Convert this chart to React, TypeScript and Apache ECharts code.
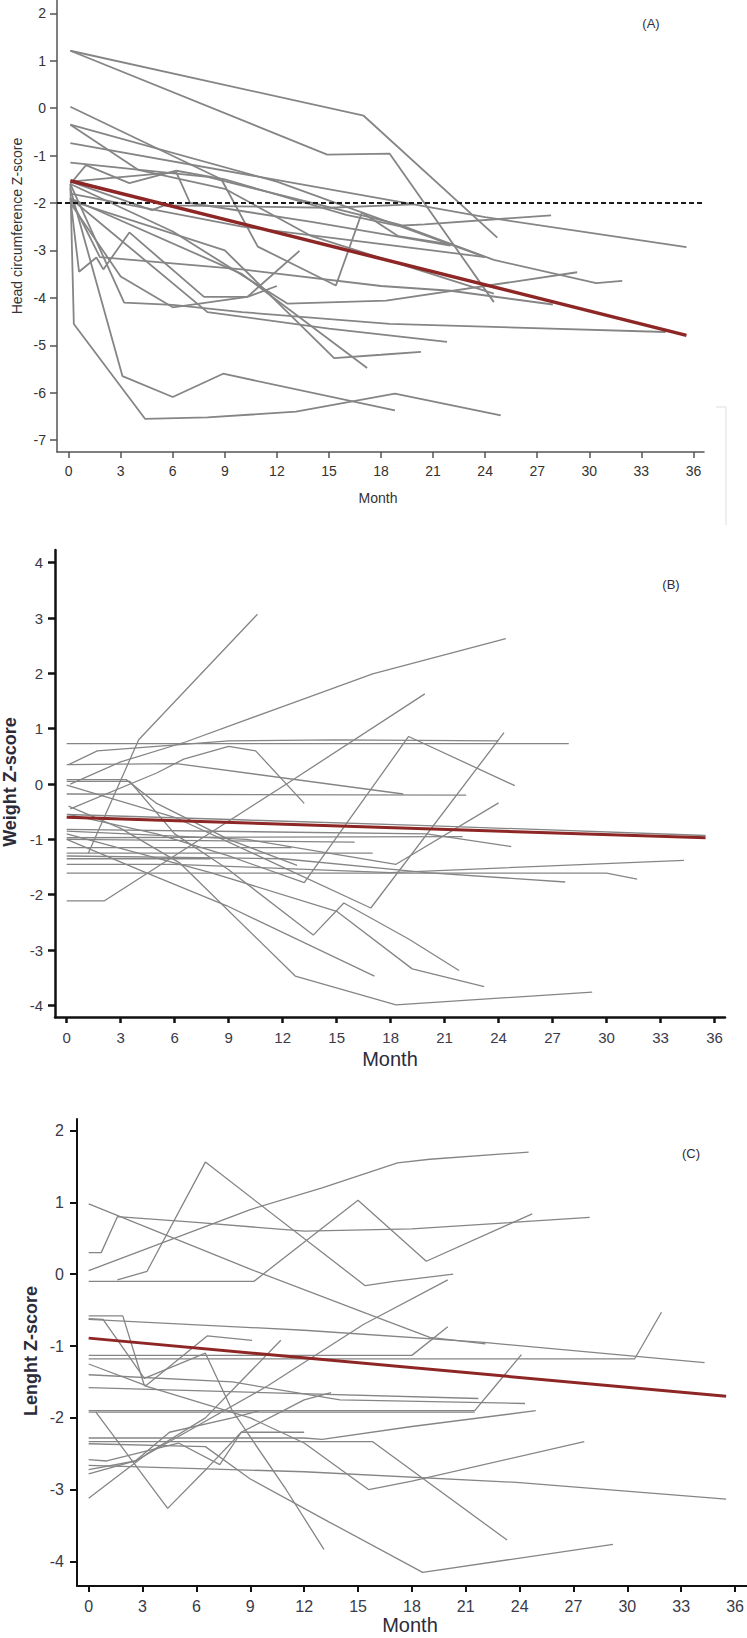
import React, { useEffect, useRef } from "react";
import * as echarts from "echarts";

const monthTicks = [0, 3, 6, 9, 12, 15, 18, 21, 24, 27, 30, 33, 36];
const headTicks = [-7, -6, -5, -4, -3, -2, -1, 0, 1, 2];
const weightTicks = [-4, -3, -2, -1, 0, 1, 2, 3, 4];
const lengthTicks = [-4, -3, -2, -1, 0, 1, 2];

const headCutoff = -2;
const headMean = [[0.1, -1.53], [35.6, -4.79]];
const headLines = [
  [[0.1, 1.21], [17.0, -0.16], [24.7, -2.73]],
  [[0.1, 1.21], [14.9, -0.98], [18.5, -0.96], [24.5, -4.09]],
  [[0.1, 0.03], [8.8, -1.5], [10.9, -2.92], [15.4, -3.74], [16.9, -2.2], [19.0, -2.7], [22.1, -2.88]],
  [[0.1, -0.35], [12, -1.55], [24.0, -3.14]],
  [[0.1, -0.35], [4, -1.3], [9, -1.7], [14, -2.7], [24.5, -3.91]],
  [[0.1, -0.74], [11, -1.45], [24, -2.3], [35.6, -2.93]],
  [[0.1, -1.15], [8, -1.45], [19, -2.45], [24.5, -3.2], [30.4, -3.69], [31.9, -3.64]],
  [[0.1, -1.6], [1.0, -1.2], [3.5, -1.58], [6.2, -1.32], [9.0, -1.5], [16.0, -2.25], [19.0, -2.48], [20.5, -2.45], [27.8, -2.26]],
  [[0.1, -1.55], [4.8, -2.15], [5.5, -2.05], [15, -2.1], [19.9, -2.03]],
  [[0.1, -1.9], [0.6, -3.45], [1.6, -3.15], [2.0, -3.4], [3.5, -2.62], [7.8, -3.98], [10.3, -3.98], [13.3, -3.01]],
  [[0.1, -1.9], [1.8, -3.14], [10, -3.4], [18, -3.75], [22, -3.85], [27.9, -4.14]],
  [[0.1, -1.6], [3.2, -4.1], [6.0, -4.15], [10, -4.3], [18.5, -4.55], [34.4, -4.72]],
  [[0.1, -1.6], [6, -2.6], [12.6, -4.12], [18.3, -4.06], [29.3, -3.46]],
  [[0.1, -2.0], [3.0, -3.55], [6.0, -4.2], [10.3, -3.98], [12.0, -3.75]],
  [[0.1, -1.9], [8, -4.3], [15, -4.65], [21.8, -4.93]],
  [[0.1, -1.95], [9, -3.0], [15.3, -5.27], [18, -5.2], [20.3, -5.14]],
  [[0.1, -1.9], [10, -3.5], [17.2, -5.48]],
  [[0.1, -1.6], [0.3, -4.55], [4.4, -6.55], [8.0, -6.52], [13.1, -6.4], [18.8, -6.02], [24.9, -6.48]],
  [[0.1, -1.7], [3.1, -5.65], [6.0, -6.09], [8.9, -5.6], [18.8, -6.37]],
  [[0.1, -1.55], [6.2, -1.35], [7.0, -2.0], [14, -2.4], [22.0, -2.9]],
  [[0.1, -1.8], [10, -2.5], [24, -3.14]],
];

const weightMean = [[0, -0.6], [35.5, -0.97]];
const weightLines = [
  [[0, -2.11], [2.1, -2.11], [12.3, 0.02], [19.9, 1.63]],
  [[1.2, -1.25], [4.0, 0.8], [10.6, 3.07]],
  [[0.2, 0.0], [3, 0.4], [6.6, 0.76], [12, 1.4], [17, 1.99], [24.4, 2.63]],
  [[0, 0.73], [27.9, 0.73]],
  [[0.1, 0.35], [1.7, 0.6], [9, 0.78], [15, 0.8], [24, 0.78]],
  [[0, 0.35], [6.1, 0.37], [18.7, -0.18]],
  [[0.2, -0.45], [5, 0.2], [6.5, 0.45], [9.0, 0.68], [10.5, 0.6], [13.2, -0.35]],
  [[0.1, -0.55], [5, -0.9], [9, -1.3], [13.2, -1.78], [19.0, 0.86], [24.9, -0.03]],
  [[0, -0.02], [6, -0.6], [12, -1.5], [16.9, -2.24], [24.3, 0.93]],
  [[0, 0.05], [3.5, 0.05], [6, -0.9], [9, -1.55], [13.7, -2.73], [15.4, -2.15], [19, -2.8], [21.8, -3.37]],
  [[0, -0.9], [8, -1.6], [15, -2.3], [19.2, -3.34], [23.2, -3.66]],
  [[0, -1.0], [4.4, -1.6], [8.9, -2.2], [17.1, -3.47]],
  [[0.1, -0.4], [3, -0.8], [6.3, -1.43], [12.7, -3.47], [18.3, -3.99], [29.2, -3.76]],
  [[0, 0.08], [3.3, 0.08], [5, -0.35], [9, -1.0], [12.8, -1.47]],
  [[0, -0.18], [22.2, -0.2]],
  [[0, -0.55], [10, -0.65], [20, -0.75], [35.5, -0.93]],
  [[0, -0.82], [20, -0.9], [24.7, -1.13]],
  [[0, -0.97], [22, -0.95]],
  [[0, -1.0], [16, -1.05]],
  [[0, -1.15], [12.5, -1.15]],
  [[0, -1.25], [17, -1.25]],
  [[0, -1.35], [8, -1.35]],
  [[0, -1.45], [6, -1.45], [18, -1.6], [34.3, -1.38]],
  [[0, -1.61], [30, -1.61], [31.7, -1.72]],
  [[0, -0.85], [10, -1.0], [18.3, -1.45], [24, -0.34]],
  [[0, -1.3], [12, -1.35], [20, -1.6], [27.7, -1.77]],
];

const lengthMean = [[0, -0.89], [35.5, -1.7]];
const lengthLines = [
  [[0, 0.3], [0.7, 0.3], [1.6, 0.8], [6, 0.72], [12, 0.6], [18, 0.63], [27.9, 0.79]],
  [[0, 0.98], [9, 0.07], [15.5, -0.55], [19, -0.88], [22.1, -0.97]],
  [[0, 0.05], [9, 0.9], [13, 1.2], [17.2, 1.55], [19, 1.6], [24.5, 1.7]],
  [[0, -0.1], [9.2, -0.1], [15, 1.03], [18.8, 0.18], [24.7, 0.84]],
  [[1.6, -0.08], [3.25, 0.04], [6.5, 1.56], [15.4, -0.16], [17, -0.1], [20.3, 0.0]],
  [[0, -0.58], [1.9, -0.58], [3.1, -1.55], [9, -2.0], [12, -2.35], [15.6, -3.0], [18, -2.88], [27.6, -2.33]],
  [[0, -2.33], [15.8, -2.33], [23.3, -3.7]],
  [[0, -0.63], [12, -0.78], [22, -0.95], [34.3, -1.23]],
  [[0, -1.18], [30.4, -1.18], [31.9, -0.53]],
  [[0, -1.13], [18, -1.13], [20, -0.73]],
  [[0, -1.4], [8, -1.5], [14, -1.75], [24.3, -1.8]],
  [[0, -1.58], [21.7, -1.73]],
  [[0, -1.9], [21.5, -1.9], [24.1, -1.12]],
  [[0, -2.28], [12, -2.28], [13, -2.3], [18, -2.12], [24.9, -1.9]],
  [[0, -2.66], [12, -2.75], [24, -2.9], [35.5, -3.13]],
  [[0, -3.12], [3.25, -2.5], [6.5, -2.0], [10.7, -0.92]],
  [[0.4, -1.92], [4.4, -3.26], [6.6, -2.7], [8.5, -2.2], [12, -1.75], [13.5, -1.65]],
  [[0, -0.62], [0.8, -0.63], [3.1, -1.45], [6.5, -1.1], [8, -1.9], [11, -3.0], [13.1, -3.83]],
  [[0, -2.36], [6.5, -2.4], [9, -2.85], [13.4, -3.45], [18.6, -4.15], [29.2, -3.76]],
  [[0, -2.78], [2.6, -2.6], [4.5, -2.2], [8, -2.0], [9.5, -1.9]],
  [[0, -2.58], [1, -2.6], [5, -2.35], [7.3, -2.65], [8.5, -2.2], [12, -2.2]],
  [[0, -1.25], [3.2, -1.55], [6.6, -0.86], [9.1, -0.92]],
  [[0, -2.72], [2.6, -2.6], [10, -1.55], [15.3, -0.7], [20, -0.08]],
  [[0, -1.92], [21.5, -1.92]],
];

const GRAY = "#858585";
const RED = "#8e2626";
const FONT = "Liberation Sans, Arial, sans-serif";

function lineSeries(data: number[][], idx: number, color: string, width: number, z = 2, type: any = "solid") {
  return {
    type: "line",
    xAxisIndex: idx,
    yAxisIndex: idx,
    data,
    symbol: "none",
    silent: true,
    z,
    lineStyle: { color, width, type },
  };
}

function xAxisCfg(idx: number, min: number, max: number, lineColor: string, lineWidth: number, fontSize: number, labelColor: string, margin: number) {
  return {
    type: "value",
    gridIndex: idx,
    min,
    max,
    splitLine: { show: false },
    axisLine: { show: true, onZero: false, lineStyle: { color: lineColor, width: lineWidth } },
    axisTick: { show: true, length: 6, customValues: monthTicks, lineStyle: { color: lineColor, width: lineWidth } },
    axisLabel: { customValues: monthTicks, fontSize, color: labelColor, fontFamily: FONT, margin },
  };
}

function yAxisCfg(idx: number, min: number, max: number, ticks: number[], lineColor: string, lineWidth: number, fontSize: number, labelColor: string, margin: number) {
  return {
    type: "value",
    gridIndex: idx,
    min,
    max,
    splitLine: { show: false },
    axisLine: { show: true, onZero: false, lineStyle: { color: lineColor, width: lineWidth } },
    axisTick: { show: true, length: 7, customValues: ticks, lineStyle: { color: lineColor, width: lineWidth } },
    axisLabel: { customValues: ticks, fontSize, color: labelColor, fontFamily: FONT, margin },
  };
}

export default function App() {
  const ref = useRef<HTMLDivElement>(null);
  useEffect(() => {
    if (!ref.current) return;
    const chart = echarts.init(ref.current, undefined, { renderer: "svg" });
    const series: any[] = [];
    headLines.forEach((l) => series.push(lineSeries(l, 0, GRAY, 1.8)));
    series.push(lineSeries([[-0.67, headCutoff], [36.61, headCutoff]], 0, "#1a1a1a", 2, 3, [5, 3]));
    series.push(lineSeries(headMean, 0, RED, 3.5, 4));
    weightLines.forEach((l) => series.push(lineSeries(l, 1, GRAY, 1.3)));
    series.push(lineSeries(weightMean, 1, RED, 3, 4));
    lengthLines.forEach((l) => series.push(lineSeries(l, 2, GRAY, 1.3)));
    series.push(lineSeries(lengthMean, 2, RED, 3, 4));

    const txt = (text: string, x: number, y: number, size: number, opts: any = {}) => ({
      type: "text",
      x,
      y,
      rotation: opts.rot || 0,
      silent: true,
      style: {
        text,
        fontSize: size,
        fontFamily: FONT,
        fontWeight: opts.bold ? "bold" : "normal",
        fill: opts.color || "#333",
        align: "center",
        verticalAlign: "middle",
      },
    });

    chart.setOption({
      animation: false,
      backgroundColor: "#ffffff",
      grid: [
        { left: 57, top: 0, width: 647, height: 452 },
        { left: 55, top: 550, width: 670, height: 467 },
        { left: 77, top: 1119, width: 670, height: 467 },
      ],
      xAxis: [
        xAxisCfg(0, -0.67, 36.61, "#555", 1.5, 14, "#333", 12),
        xAxisCfg(1, -0.65, 36.58, "#111", 2.5, 15, "#3a3a4a", 13),
        xAxisCfg(2, -0.65, 36.65, "#111", 2, 16, "#3a3a4a", 12),
      ],
      yAxis: [
        yAxisCfg(0, -7.25, 2.28, headTicks, "#555", 1.5, 14, "#333", 11),
        yAxisCfg(1, -4.21, 4.23, weightTicks, "#111", 2.5, 15, "#3a3a4a", 12),
        yAxisCfg(2, -4.34, 2.16, lengthTicks, "#111", 2, 16, "#3a3a4a", 13),
      ],
      series,
      graphic: [
        txt("Head circumference Z-score", 17, 226, 14, { rot: Math.PI / 2 }),
        txt("Month", 378, 498, 14),
        txt("(A)", 651, 23, 13),
        txt("Weight Z-score", 10, 782, 18, { rot: Math.PI / 2, bold: true, color: "#2b2b3a" }),
        txt("Month", 390, 1059, 20, { color: "#2b2b3a" }),
        txt("(B)", 671, 584, 13, { color: "#2b2b3a" }),
        txt("Lenght Z-score", 31, 1351, 18, { rot: Math.PI / 2, bold: true, color: "#2b2b3a" }),
        txt("Month", 410, 1625, 20, { color: "#2b2b3a" }),
        txt("(C)", 691, 1153, 13, { color: "#2b2b3a" }),
        { type: "line", silent: true, shape: { x1: 726, y1: 407, x2: 726, y2: 525 }, style: { stroke: "#e3eaee", lineWidth: 1.5 } },
        { type: "line", silent: true, shape: { x1: 716, y1: 407, x2: 726, y2: 407 }, style: { stroke: "#e3eaee", lineWidth: 1.5 } },
      ],
    });
    return () => chart.dispose();
  }, []);
  return <div ref={ref} style={{ position: "absolute", left: 0, top: 0, width: 747, height: 1638 }} />;
}
